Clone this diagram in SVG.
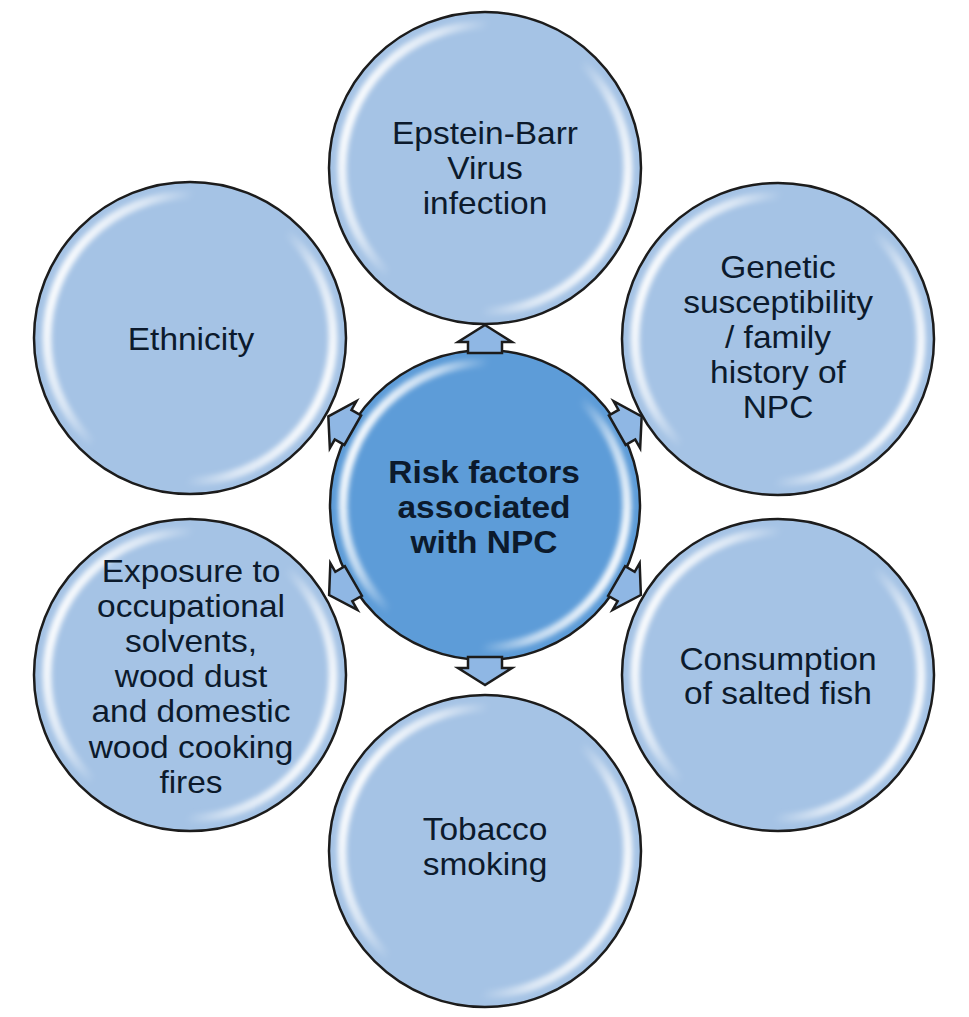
<svg xmlns="http://www.w3.org/2000/svg" width="969" height="1017" viewBox="0 0 969 1017">
<defs>
<linearGradient id="hl" x1="0" y1="0.3" x2="1" y2="0.7">
<stop offset="0" stop-color="#ffffff" stop-opacity="1"/>
<stop offset="0.2" stop-color="#ffffff" stop-opacity="0.6"/>
<stop offset="0.34" stop-color="#ffffff" stop-opacity="0"/>
<stop offset="0.66" stop-color="#ffffff" stop-opacity="0"/>
<stop offset="0.8" stop-color="#ffffff" stop-opacity="0.6"/>
<stop offset="1" stop-color="#ffffff" stop-opacity="1"/>
</linearGradient>
<filter id="blur" x="-10%" y="-10%" width="120%" height="120%">
<feGaussianBlur stdDeviation="2.5"/>
</filter>
<style>
.sat{fill:#a5c3e5;stroke:#1c1c1c;stroke-width:2.5}
.ctr{fill:#5d9cd8;stroke:#1c1c1c;stroke-width:2.5}
.ring{fill:none;stroke:url(#hl);stroke-width:9;filter:url(#blur)}
.t{font-family:"Liberation Sans",Arial,sans-serif;font-size:31px;fill:#0c1a2c;text-anchor:middle}
.b{font-weight:bold}
.arr{fill:#8fb7e4;stroke:#1c1c1c;stroke-width:2.5;stroke-linejoin:miter}
</style>
</defs>
<rect width="969" height="1017" fill="#ffffff"/>

<g id="node-ebv">
<circle class="sat" cx="485" cy="168" r="156"/>
<circle class="ring" cx="485" cy="168" r="143"/>
<g transform="translate(485 0) scale(1.08 1)">
<text class="t" x="0" y="144">Epstein-Barr</text>
<text class="t" x="0" y="179">Virus</text>
<text class="t" x="0" y="214">infection</text>
</g>
</g>

<g id="node-genetic">
<circle class="sat" cx="778" cy="339" r="156"/>
<circle class="ring" cx="778" cy="339" r="143"/>
<g transform="translate(778 0) scale(1.08 1)">
<text class="t" x="0" y="278">Genetic</text>
<text class="t" x="0" y="313">susceptibility</text>
<text class="t" x="0" y="348">/ family</text>
<text class="t" x="0" y="383">history of</text>
<text class="t" x="0" y="418">NPC</text>
</g>
</g>

<g id="node-fish">
<circle class="sat" cx="778" cy="675" r="156"/>
<circle class="ring" cx="778" cy="675" r="143"/>
<g transform="translate(778 0) scale(1.08 1)">
<text class="t" x="0" y="670">Consumption</text>
<text class="t" x="0" y="704">of salted fish</text>
</g>
</g>

<g id="node-tobacco">
<circle class="sat" cx="485" cy="851" r="156"/>
<circle class="ring" cx="485" cy="851" r="143"/>
<g transform="translate(485 0) scale(1.08 1)">
<text class="t" x="0" y="840">Tobacco</text>
<text class="t" x="0" y="875">smoking</text>
</g>
</g>

<g id="node-exposure">
<circle class="sat" cx="190" cy="675" r="156"/>
<circle class="ring" cx="190" cy="675" r="143"/>
<g transform="translate(191 0) scale(1.08 1)">
<text class="t" x="0" y="582">Exposure to</text>
<text class="t" x="0" y="617">occupational</text>
<text class="t" x="0" y="652">solvents,</text>
<text class="t" x="0" y="687">wood dust</text>
<text class="t" x="0" y="722">and domestic</text>
<text class="t" x="0" y="758">wood cooking</text>
<text class="t" x="0" y="793">fires</text>
</g>
</g>

<g id="node-ethnicity">
<circle class="sat" cx="190" cy="338" r="156"/>
<circle class="ring" cx="190" cy="338" r="143"/>
<g transform="translate(191 0) scale(1.08 1)">
<text class="t" x="0" y="350">Ethnicity</text>
</g>
</g>

<g id="node-center">
<circle class="ctr" cx="485" cy="505" r="155"/>
<circle class="ring" cx="485" cy="505" r="142"/>
<g transform="translate(484 0) scale(1.08 1)">
<text class="t b" x="0" y="483">Risk factors</text>
<text class="t b" x="0" y="518">associated</text>
<text class="t b" x="0" y="553">with NPC</text>
</g>
</g>

<g id="connectors">
<polygon class="arr" points="485,325 512,342 502,342 502,353 468,353 468,342 458,342"/>
<polygon class="arr" points="485,325 512,342 502,342 502,353 468,353 468,342 458,342" transform="rotate(60.5 485 505)"/>
<polygon class="arr" points="485,325 512,342 502,342 502,353 468,353 468,342 458,342" transform="rotate(120 485 505)"/>
<polygon class="arr" points="485,325 512,342 502,342 502,353 468,353 468,342 458,342" transform="rotate(180 485 505)"/>
<polygon class="arr" points="485,325 512,342 502,342 502,353 468,353 468,342 458,342" transform="rotate(-120 485 505)"/>
<polygon class="arr" points="485,325 512,342 502,342 502,353 468,353 468,342 458,342" transform="rotate(-60.5 485 505)"/>
</g>
</svg>
